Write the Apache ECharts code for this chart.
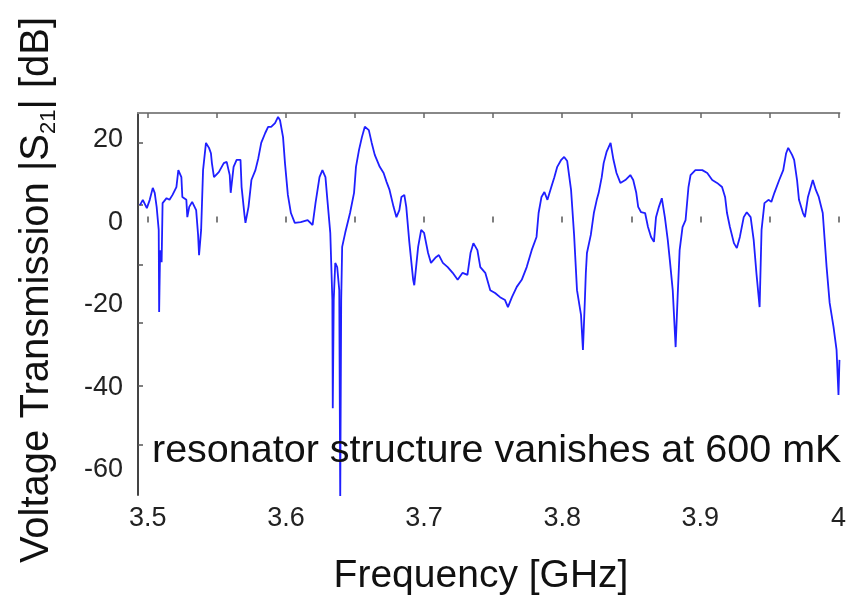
<!DOCTYPE html>
<html>
<head>
<meta charset="utf-8">
<script src="https://cdn.jsdelivr.net/npm/echarts@6/dist/echarts.min.js"></script>
<style>
html,body{margin:0;padding:0;background:#fff;}
#chart{width:849px;height:598px;}
</style>
</head>
<body>
<div id="chart"></div>
<script>
const freqGHz = [
3.4943,3.4964,3.4993,3.5014,3.5036,3.5050,3.5064,3.5079,3.5082,3.5089,
3.5100,3.5107,3.5136,3.5157,3.5179,3.5207,3.5221,3.5243,3.5250,3.5279,
3.5286,3.5300,3.5321,3.5350,3.5364,3.5371,3.5386,3.5400,3.5421,3.5443,
3.5457,3.5464,3.5479,3.5514,3.5550,3.5571,3.5593,3.5600,3.5621,3.5643,
3.5671,3.5679,3.5700,3.5707,3.5729,3.5750,3.5779,3.5800,3.5821,3.5850,
3.5871,3.5893,3.5921,3.5943,3.5957,3.5979,3.5993,3.6014,3.6036,3.6064,
3.6107,3.6157,3.6193,3.6214,3.6243,3.6264,3.6286,3.6300,3.6321,3.6336,
3.6339,3.6346,3.6357,3.6371,3.6386,3.6393,3.6400,3.6407,3.6429,3.6464,
3.6493,3.6507,3.6529,3.6550,3.6571,3.6600,3.6621,3.6643,3.6679,3.6707,
3.6729,3.6750,3.6779,3.6800,3.6821,3.6836,3.6857,3.6871,3.6893,3.6921,
3.6929,3.6957,3.6979,3.7000,3.7029,3.7050,3.7086,3.7107,3.7136,3.7171,
3.7207,3.7243,3.7279,3.7314,3.7336,3.7357,3.7386,3.7407,3.7443,3.7479,
3.7514,3.7550,3.7586,3.7607,3.7636,3.7671,3.7707,3.7743,3.7779,3.7814,
3.7829,3.7850,3.7871,3.7893,3.7921,3.7943,3.7964,3.7993,3.8014,3.8036,
3.8064,3.8086,3.8107,3.8136,3.8150,3.8164,3.8171,3.8179,3.8207,3.8229,
3.8250,3.8264,3.8286,3.8300,3.8321,3.8350,3.8371,3.8393,3.8421,3.8457,
3.8493,3.8514,3.8536,3.8550,3.8571,3.8600,3.8621,3.8643,3.8664,3.8679,
3.8700,3.8721,3.8743,3.8764,3.8779,3.8800,3.8821,3.8836,3.8850,3.8871,
3.8893,3.8914,3.8929,3.8964,3.9014,3.9050,3.9086,3.9121,3.9157,3.9179,
3.9193,3.9214,3.9243,3.9264,3.9286,3.9314,3.9336,3.9364,3.9386,3.9407,
3.9429,3.9443,3.9464,3.9493,3.9514,3.9536,3.9571,3.9600,3.9621,3.9636,
3.9664,3.9679,3.9700,3.9714,3.9743,3.9757,3.9779,3.9814,3.9836,3.9857,
3.9886,3.9900,3.9914,3.9936,3.9964,3.9986,4.0000,4.0007
];
const s21dB = [
4.2,5.5,3.5,5.5,8.4,7.2,3.8,-1.8,-21.7,-6.7,
-9.6,4.7,5.9,5.5,6.7,8.6,12.7,11.0,6.2,5.5,
1.3,3.8,5.0,3.0,-3.0,-7.9,-1.8,12.7,19.3,18.1,
16.8,14.4,11.0,12.2,14.4,14.7,11.5,7.2,13.5,15.2,
15.2,8.6,1.8,-0.1,3.8,10.3,12.7,15.6,19.3,21.7,
23.2,23.2,24.1,25.6,24.8,20.7,14.4,6.7,2.3,-0.1,
0.1,0.6,-0.6,4.7,11.0,12.7,11.0,5.5,-2.5,-18.8,
-45.0,-18.8,-9.8,-10.8,-16.4,-67.3,-18.8,-5.9,-2.5,2.3,
7.2,13.5,17.6,20.7,23.2,22.4,19.3,16.4,13.5,12.0,
9.8,7.9,3.8,1.3,3.0,6.2,6.7,3.8,-4.7,-13.9,
-15.2,-5.9,-1.8,-2.5,-7.4,-9.8,-8.4,-7.9,-9.8,-10.8,
-12.2,-13.9,-12.2,-12.7,-7.4,-5.0,-6.7,-10.8,-12.2,-16.4,
-17.1,-18.1,-18.8,-20.5,-18.1,-15.6,-13.9,-10.8,-6.7,-3.5,
2.3,6.2,7.4,5.5,8.6,11.0,13.5,15.2,15.9,14.9,
7.9,-3.0,-16.4,-22.4,-30.9,-18.8,-12.2,-7.4,-3.0,2.3,
5.5,7.2,11.0,14.4,17.1,19.3,15.2,12.0,9.6,10.3,
11.5,10.3,7.2,3.8,2.5,2.3,-1.1,-3.5,-4.7,1.3,
3.8,5.9,1.3,-4.2,-9.1,-16.4,-30.2,-17.6,-6.7,-1.1,
0.6,8.6,11.5,12.7,12.7,12.0,10.3,9.6,8.6,6.2,
2.3,-1.1,-5.0,-6.2,-3.5,1.3,2.5,1.3,-4.2,-12.7,
-20.5,-1.8,4.7,5.5,5.0,7.2,10.3,12.7,16.8,18.1,
16.4,15.2,10.3,5.5,2.3,1.3,6.2,10.3,7.9,6.2,
2.3,-4.2,-10.8,-19.5,-25.3,-30.9,-41.8,-33.3
];
const xTickLabels = [3.5, 3.6, 3.7, 3.8, 3.9, 4.0];
const xTickMarks = [3.5, 3.55, 3.6, 3.65, 3.7, 3.75, 3.8, 3.85, 3.9, 3.95, 4.0];
const yTickLabels = [20, 0, -20, -40, -60];
const yTickMarks = [19.3, 4.2, -10.3, -24.4, -39.6, -53.9];

const FONT = "'Liberation Sans', Arial, Helvetica, sans-serif";
const seriesData = freqGHz.map((f, i) => [f, s21dB[i]]);

const chart = echarts.init(document.getElementById('chart'), null, {renderer: 'canvas'});
chart.setOption({
  animation: false,
  backgroundColor: '#ffffff',
  grid: {left: 138, top: 113, right: 0, bottom: 103, containLabel: false},
  xAxis: [{
    type: 'value', min: 3.4929, max: 4.0007,
    axisLine: {show: false},
    axisTick: {show: true, inside: true, length: 6, customValues: xTickMarks, lineStyle: {color: '#555', width: 1.5}},
    axisLabel: {customValues: xTickLabels, fontSize: 27, fontFamily: FONT, color: '#222', margin: 10,
      formatter: v => (Math.abs(v - 4) < 1e-9 ? '4' : v.toFixed(1))},
    splitLine: {show: false}
  }, {
    type: 'value', position: 'top', min: 3.4929, max: 4.0007,
    axisLine: {show: true, lineStyle: {color: '#888', width: 2}},
    axisTick: {show: true, inside: true, length: 5, customValues: xTickMarks, lineStyle: {color: '#666', width: 1.5}},
    axisLabel: {show: false},
    splitLine: {show: false}
  }],
  yAxis: {
    type: 'value', min: -66.06, max: 26.55,
    axisLine: {show: true, lineStyle: {color: '#444', width: 2}},
    axisTick: {show: true, inside: true, length: 5, customValues: yTickMarks, lineStyle: {color: '#555', width: 1.5}},
    axisLabel: {customValues: yTickLabels, fontSize: 27, fontFamily: FONT, color: '#222', margin: 15},
    splitLine: {show: false}
  },
  series: [{
    type: 'line',
    data: seriesData,
    showSymbol: false,
    clip: true,
    lineStyle: {color: '#1f1fff', width: 1.8},
    z: 2
  }],
  graphic: [
    {type: 'text', left: 152, top: 431, z: 10,
      style: {text: 'resonator structure vanishes at 600 mK', font: '39.5px ' + FONT, fill: '#111'}},
    {type: 'text', x: 481, y: 576, z: 10,
      style: {text: 'Frequency [GHz]', font: '39px ' + FONT, fill: '#111', textAlign: 'center', textVerticalAlign: 'middle'}},
    {type: 'text', x: 37, y: 290, rotation: Math.PI / 2, z: 10,
      style: {
        text: '{a|Voltage Transmission |S}{s|21}{a|| [dB]}',
        textAlign: 'center', textVerticalAlign: 'middle', fill: '#111',
        rich: {
          a: {fontSize: 40, fontFamily: FONT, color: '#111', lineHeight: 46},
          s: {fontSize: 22, fontFamily: FONT, color: '#111', lineHeight: 34, verticalAlign: 'bottom'}
        }
      }}
  ]
});
</script>
</body>
</html>
